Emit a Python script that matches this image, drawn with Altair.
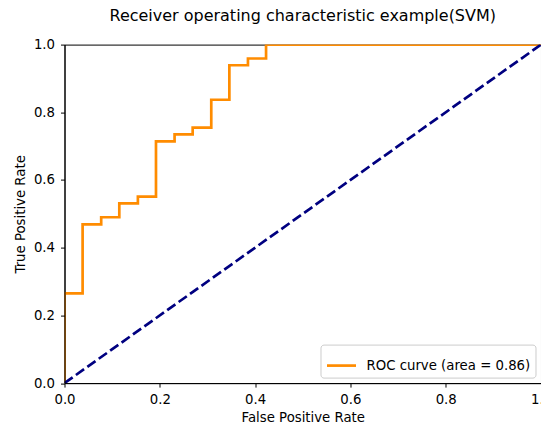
import altair as alt
import pandas as pd

# ROC curve points
fpr = [0.0, 0.0, 0.038, 0.038, 0.077, 0.077, 0.115, 0.115, 0.154, 0.154,
       0.192, 0.192, 0.231, 0.231, 0.269, 0.269, 0.308, 0.308, 0.346, 0.346,
       0.385, 0.385, 0.423, 0.423, 1.0]
tpr = [0.0, 0.265, 0.265, 0.469, 0.469, 0.490, 0.490, 0.531, 0.531, 0.551,
       0.551, 0.714, 0.714, 0.735, 0.735, 0.755, 0.755, 0.837, 0.837, 0.939,
       0.939, 0.959, 0.959, 1.0, 1.0]
diag_x = [0.0, 1.0]
diag_y = [0.0, 1.0]
roc_label = "ROC curve (area = 0.86)"
ticks = [0.0, 0.2, 0.4, 0.6, 0.8, 1.0]

FONT = "DejaVu Sans"
W, H = 476.5, 338.5

roc = pd.DataFrame({"fpr": fpr, "tpr": tpr, "idx": list(range(len(fpr))),
                    "series": [roc_label] * len(fpr)})
diag = pd.DataFrame({"fpr": diag_x, "tpr": diag_y, "idx": [0, 1]})

xs = alt.Scale(domain=[0, 1], nice=False, zero=False)
ys = alt.Scale(domain=[0, 1], nice=False, zero=False)

xax = alt.Axis(values=ticks, format=".1f", title="False Positive Rate",
               grid=False, tickSize=4, labelPadding=16, labelBaseline="alphabetic",
               labelFlush=False, labelOverlap=False, labelBound=False,
               titleBaseline="alphabetic", titleY=38, titleX=W / 2,
               zindex=1)
yax = alt.Axis(values=ticks, format=".1f", title="True Positive Rate",
               grid=False, tickSize=4, labelPadding=6,
               labelFlush=False, labelOverlap=False, labelBound=False,
               titleBaseline="alphabetic", titleX=-40.5, titleY=H / 2,
               titleAngle=-90, zindex=1)

line_roc = alt.Chart(roc).mark_line(strokeWidth=2.7, clip=True).encode(
    x=alt.X("fpr:Q", scale=xs, axis=xax),
    y=alt.Y("tpr:Q", scale=ys, axis=yax),
    order="idx:Q",
    color=alt.Color("series:N",
                    scale=alt.Scale(domain=[roc_label], range=["#FF8C00"]),
                    legend=alt.Legend(title=None, orient="bottom-right",
                                      symbolType="stroke", symbolSize=841,
                                      symbolStrokeWidth=2.7, labelOffset=9,
                                      offset=6, padding=5, labelLimit=0,
                                      strokeColor="#cccccc", fillColor="white",
                                      cornerRadius=3, labelFontSize=13.3,
                                      labelFont=FONT, labelColor="black")),
)

line_diag = alt.Chart(diag).mark_line(strokeWidth=2.7, strokeDash=[10, 4],
                                      color="#000080", clip=True).encode(
    x=alt.X("fpr:Q", scale=xs),
    y=alt.Y("tpr:Q", scale=ys),
    order="idx:Q",
)

chart = alt.layer(line_roc, line_diag).properties(
    width=W, height=H,
    title=alt.TitleParams("Receiver operating characteristic example(SVM)",
                          font=FONT, fontSize=16, fontWeight="normal",
                          color="black", anchor="middle", baseline="alphabetic",
                          offset=1, frame="group"),
    autosize=alt.AutoSizeParams(type="none"),
    padding={"left": 56.5, "top": 36.6, "right": 0, "bottom": 45},
).configure_view(stroke="black", strokeWidth=1).configure_axis(
    labelFont=FONT, labelFontSize=13.3, labelColor="black",
    titleFont=FONT, titleFontSize=13.3, titleColor="black", titleFontWeight="normal",
    domainColor="black", tickColor="black", domainWidth=1, tickWidth=1,
)

chart.save("out.html", embed_options={"renderer": "svg", "actions": False})
